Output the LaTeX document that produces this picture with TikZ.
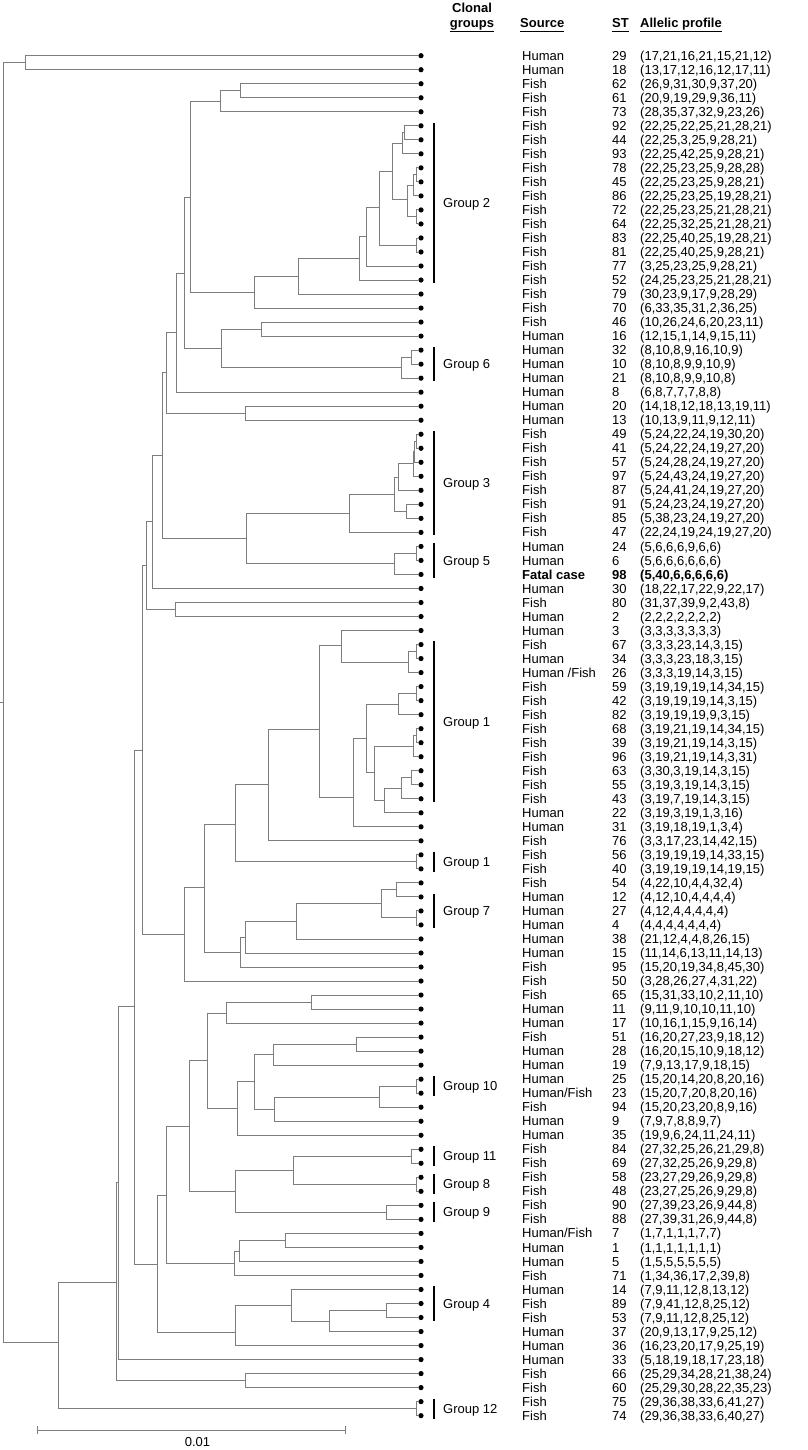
\documentclass[tikz,border=0pt]{standalone}
\usepackage{fontspec}
\setmainfont{Liberation Sans}
\usetikzlibrary{positioning}

\definecolor{treegray}{RGB}{125,125,125}

% one isolate per row: row, source, ST, allelic profile
\newcommand{\isolate}[4]{%
  \node[leaf] (l#1) at (421,#1) {};
  \node[txt] (src#1) at (522,#1) {#2};
  \node[txt] (st#1) at (612,#1) {#3};
  \node[txt] (ap#1) at (640,#1) {#4};}
% internal node: name, position, two children
\newcommand{\clade}[4]{%
  \coordinate (#1) at (#2);
  \draw[branch] (#1) |- (#3) (#1) |- (#4);}
% clonal group bar: first row, last row, label
\newcommand{\clonal}[3]{%
  \draw[bar] (434,{#1-0.22}) -- (434,{#2+0.22});
  \node[txt] (grp#1) at (443,{(#1+#2)/2}) {#3};}

\begin{document}
\begin{tikzpicture}[x=1pt, y=-1pt,
    leaf/.style={circle, fill=black, inner sep=0pt, minimum size=5.2pt},
    branch/.style={draw=treegray, line width=0.9pt},
    txt/.style={anchor=base west, inner sep=0pt, yshift=-4.6pt, font=\fontsize{13}{15}\selectfont},
    hdr/.style={inner sep=0pt, font=\fontsize{13}{15}\selectfont\bfseries},
    bar/.style={line width=1.4pt},
    scalebar/.style={draw=treegray, line width=0.9pt}
  ]
  \useasboundingbox (0,0) rectangle (807,1450);

  % column headers
  \node[hdr, anchor=base] (hClonal) at (472,12.5) {Clonal};
  \node[hdr, anchor=base] (hGroups) at (472,27.5) {groups};
  \node[hdr, anchor=base west] (hSource) at (520,27.5) {Source};
  \node[hdr, anchor=base west] (hST) at (612,27.5) {ST};
  \node[hdr, anchor=base west] (hProfile) at (640,27.5) {Allelic profile};
  \foreach \h in {hGroups,hSource,hST,hProfile}
    \draw[line width=0.9pt] ([yshift=-4pt]\h.base west) -- ([yshift=-4pt]\h.base east);

  \begin{scope}[shift={(0,41.68)}, y=-14.02pt]
  % isolates
  \isolate{1}{Human}{29}{(17,21,16,21,15,21,12)}
  \isolate{2}{Human}{18}{(13,17,12,16,12,17,11)}
  \isolate{3}{Fish}{62}{(26,9,31,30,9,37,20)}
  \isolate{4}{Fish}{61}{(20,9,19,29,9,36,11)}
  \isolate{5}{Fish}{73}{(28,35,37,32,9,23,26)}
  \isolate{6}{Fish}{92}{(22,25,22,25,21,28,21)}
  \isolate{7}{Fish}{44}{(22,25,3,25,9,28,21)}
  \isolate{8}{Fish}{93}{(22,25,42,25,9,28,21)}
  \isolate{9}{Fish}{78}{(22,25,23,25,9,28,28)}
  \isolate{10}{Fish}{45}{(22,25,23,25,9,28,21)}
  \isolate{11}{Fish}{86}{(22,25,23,25,19,28,21)}
  \isolate{12}{Fish}{72}{(22,25,23,25,21,28,21)}
  \isolate{13}{Fish}{64}{(22,25,32,25,21,28,21)}
  \isolate{14}{Fish}{83}{(22,25,40,25,19,28,21)}
  \isolate{15}{Fish}{81}{(22,25,40,25,9,28,21)}
  \isolate{16}{Fish}{77}{(3,25,23,25,9,28,21)}
  \isolate{17}{Fish}{52}{(24,25,23,25,21,28,21)}
  \isolate{18}{Fish}{79}{(30,23,9,17,9,28,29)}
  \isolate{19}{Fish}{70}{(6,33,35,31,2,36,25)}
  \isolate{20}{Fish}{46}{(10,26,24,6,20,23,11)}
  \isolate{21}{Human}{16}{(12,15,1,14,9,15,11)}
  \isolate{22}{Human}{32}{(8,10,8,9,16,10,9)}
  \isolate{23}{Human}{10}{(8,10,8,9,9,10,9)}
  \isolate{24}{Human}{21}{(8,10,8,9,9,10,8)}
  \isolate{25}{Human}{8}{(6,8,7,7,7,8,8)}
  \isolate{26}{Human}{20}{(14,18,12,18,13,19,11)}
  \isolate{27}{Human}{13}{(10,13,9,11,9,12,11)}
  \isolate{28}{Fish}{49}{(5,24,22,24,19,30,20)}
  \isolate{29}{Fish}{41}{(5,24,22,24,19,27,20)}
  \isolate{30}{Fish}{57}{(5,24,28,24,19,27,20)}
  \isolate{31}{Fish}{97}{(5,24,43,24,19,27,20)}
  \isolate{32}{Fish}{87}{(5,24,41,24,19,27,20)}
  \isolate{33}{Fish}{91}{(5,24,23,24,19,27,20)}
  \isolate{34}{Fish}{85}{(5,38,23,24,19,27,20)}
  \isolate{35}{Fish}{47}{(22,24,19,24,19,27,20)}
  \isolate{36}{Human}{24}{(5,6,6,6,9,6,6)}
  \isolate{37}{Human}{6}{(5,6,6,6,6,6,6)}
  \isolate{38}{\textbf{Fatal case}}{\textbf{98}}{\textbf{(5,40,6,6,6,6,6)}}
  \isolate{39}{Human}{30}{(18,22,17,22,9,22,17)}
  \isolate{40}{Fish}{80}{(31,37,39,9,2,43,8)}
  \isolate{41}{Human}{2}{(2,2,2,2,2,2,2)}
  \isolate{42}{Human}{3}{(3,3,3,3,3,3,3)}
  \isolate{43}{Fish}{67}{(3,3,3,23,14,3,15)}
  \isolate{44}{Human}{34}{(3,3,3,23,18,3,15)}
  \isolate{45}{Human /Fish}{26}{(3,3,3,19,14,3,15)}
  \isolate{46}{Fish}{59}{(3,19,19,19,14,34,15)}
  \isolate{47}{Fish}{42}{(3,19,19,19,14,3,15)}
  \isolate{48}{Fish}{82}{(3,19,19,19,9,3,15)}
  \isolate{49}{Fish}{68}{(3,19,21,19,14,34,15)}
  \isolate{50}{Fish}{39}{(3,19,21,19,14,3,15)}
  \isolate{51}{Fish}{96}{(3,19,21,19,14,3,31)}
  \isolate{52}{Fish}{63}{(3,30,3,19,14,3,15)}
  \isolate{53}{Fish}{55}{(3,19,3,19,14,3,15)}
  \isolate{54}{Fish}{43}{(3,19,7,19,14,3,15)}
  \isolate{55}{Human}{22}{(3,19,3,19,1,3,16)}
  \isolate{56}{Human}{31}{(3,19,18,19,1,3,4)}
  \isolate{57}{Fish}{76}{(3,3,17,23,14,42,15)}
  \isolate{58}{Fish}{56}{(3,19,19,19,14,33,15)}
  \isolate{59}{Fish}{40}{(3,19,19,19,14,19,15)}
  \isolate{60}{Fish}{54}{(4,22,10,4,4,32,4)}
  \isolate{61}{Human}{12}{(4,12,10,4,4,4,4)}
  \isolate{62}{Human}{27}{(4,12,4,4,4,4,4)}
  \isolate{63}{Human}{4}{(4,4,4,4,4,4,4)}
  \isolate{64}{Human}{38}{(21,12,4,4,8,26,15)}
  \isolate{65}{Human}{15}{(11,14,6,13,11,14,13)}
  \isolate{66}{Fish}{95}{(15,20,19,34,8,45,30)}
  \isolate{67}{Fish}{50}{(3,28,26,27,4,31,22)}
  \isolate{68}{Fish}{65}{(15,31,33,10,2,11,10)}
  \isolate{69}{Human}{11}{(9,11,9,10,10,11,10)}
  \isolate{70}{Human}{17}{(10,16,1,15,9,16,14)}
  \isolate{71}{Fish}{51}{(16,20,27,23,9,18,12)}
  \isolate{72}{Human}{28}{(16,20,15,10,9,18,12)}
  \isolate{73}{Human}{19}{(7,9,13,17,9,18,15)}
  \isolate{74}{Human}{25}{(15,20,14,20,8,20,16)}
  \isolate{75}{Human/Fish}{23}{(15,20,7,20,8,20,16)}
  \isolate{76}{Fish}{94}{(15,20,23,20,8,9,16)}
  \isolate{77}{Human}{9}{(7,9,7,8,8,9,7)}
  \isolate{78}{Human}{35}{(19,9,6,24,11,24,11)}
  \isolate{79}{Fish}{84}{(27,32,25,26,21,29,8)}
  \isolate{80}{Fish}{69}{(27,32,25,26,9,29,8)}
  \isolate{81}{Fish}{58}{(23,27,29,26,9,29,8)}
  \isolate{82}{Fish}{48}{(23,27,25,26,9,29,8)}
  \isolate{83}{Fish}{90}{(27,39,23,26,9,44,8)}
  \isolate{84}{Fish}{88}{(27,39,31,26,9,44,8)}
  \isolate{85}{Human/Fish}{7}{(1,7,1,1,1,7,7)}
  \isolate{86}{Human}{1}{(1,1,1,1,1,1,1)}
  \isolate{87}{Human}{5}{(1,5,5,5,5,5,5)}
  \isolate{88}{Fish}{71}{(1,34,36,17,2,39,8)}
  \isolate{89}{Human}{14}{(7,9,11,12,8,13,12)}
  \isolate{90}{Fish}{89}{(7,9,41,12,8,25,12)}
  \isolate{91}{Fish}{53}{(7,9,11,12,8,25,12)}
  \isolate{92}{Human}{37}{(20,9,13,17,9,25,12)}
  \isolate{93}{Human}{36}{(16,23,20,17,9,25,19)}
  \isolate{94}{Human}{33}{(5,18,19,18,17,23,18)}
  \isolate{95}{Fish}{66}{(25,29,34,28,21,38,24)}
  \isolate{96}{Fish}{60}{(25,29,30,28,22,35,23)}
  \isolate{97}{Fish}{75}{(29,36,38,33,6,41,27)}
  \isolate{98}{Fish}{74}{(29,36,38,33,6,40,27)}

  % clonal groups
  \clonal{6}{17}{Group 2}
  \clonal{22}{24}{Group 6}
  \clonal{28}{35}{Group 3}
  \clonal{36}{38}{Group 5}
  \clonal{43}{54}{Group 1}
  \clonal{58}{59}{Group 1}
  \clonal{61}{63}{Group 7}
  \clonal{74}{75}{Group 10}
  \clonal{79}{80}{Group 11}
  \clonal{81}{82}{Group 8}
  \clonal{83}{84}{Group 9}
  \clonal{89}{91}{Group 4}
  \clonal{97}{98}{Group 12}

  % tree, upper part
  \clade{n34}{240.7,3.5}{l3}{l4}
  \clade{nFI}{220,4.25}{n34}{l5}
  \clade{n67}{404.5,6.5}{l6}{l7}
  \clade{n678}{402.3,7.25}{n67}{l8}
  \clade{n910}{416.7,9.5}{l9}{l10}
  \clade{n911}{413.3,10.25}{n910}{l11}
  \clade{n1213}{416.7,12.5}{l12}{l13}
  \clade{nFP}{407.3,11.25}{n911}{n1213}
  \clade{nFO}{392.3,9.25}{n678}{nFP}
  \clade{n1415}{416.7,14.5}{l14}{l15}
  \clade{nFN}{379.3,11.85}{nFO}{n1415}
  \clade{nFM}{366.7,13.92}{nFN}{l16}
  \clade{nFL}{359,15.47}{nFM}{l17}
  \clade{nFK}{298.3,16.73}{nFL}{l18}
  \clade{nFJ}{254.3,17.87}{nFK}{l19}
  \clade{nFH}{190,11.1}{nFI}{nFJ}
  \clade{n2021}{261,20.5}{l20}{l21}
  \clade{n2223}{411.7,22.5}{l22}{l23}
  \clade{g6n}{401.7,23.25}{n2223}{l24}
  \clade{nFQ}{221,21.87}{n2021}{g6n}
  \clade{nFG}{184.3,16.5}{nFH}{nFQ}
  \clade{nFF}{176,20.74}{nFG}{l25}
  \clade{n2627}{245.7,26.5}{l26}{l27}
  \clade{nFE}{166,23.6}{nFF}{n2627}
  \clade{n2829}{416.7,28.5}{l28}{l29}
  \clade{nFU3}{414.7,29.25}{n2829}{l30}
  \clade{nFU2}{413.3,30.1}{nFU3}{l31}
  \clade{nFU}{398.3,31.05}{nFU2}{l32}
  \clade{n3334}{406.7,33.5}{l33}{l34}
  \clade{nFT}{394.3,32.27}{nFU}{n3334}
  \clade{nFS}{349.3,33.64}{nFT}{l35}
  \clade{n3637}{416.7,36.5}{l36}{l37}
  \clade{g5n}{394.3,37.25}{n3637}{l38}
  \clade{nFR}{246.7,35.45}{nFS}{g5n}
  \clade{nFD}{162.7,29.5}{nFE}{nFR}
  \clade{nFC}{152.7,34.25}{nFD}{l39}
  \clade{nFA}{175.7,40.5}{l40}{l41}
  \clade{nFB}{146.7,37.37}{nFC}{nFA}

  % tree, middle part
  \clade{n4344}{416.7,43.5}{l43}{l44}
  \clade{nGDb}{408.3,44.25}{n4344}{l45}
  \clade{nGDa}{341,43.1}{l42}{nGDb}
  \clade{n4647}{416.7,46.5}{l46}{l47}
  \clade{nGFa}{398.3,47.25}{n4647}{l48}
  \clade{n4950}{416.7,49.5}{l49}{l50}
  \clade{nGGa}{413.3,50.25}{n4950}{l51}
  \clade{n5253}{411.7,52.5}{l52}{l53}
  \clade{nGHa}{401.7,53.25}{n5253}{l54}
  \clade{nGH}{384,54.1}{nGHa}{l55}
  \clade{nGG}{374,52.1}{nGGa}{nGH}
  \clade{nGF}{366,49.67}{nGFa}{nGG}
  \clade{nGE}{353.3,53.92}{nGF}{l56}
  \clade{nGD}{319.3,49.05}{nGDa}{nGE}
  \clade{nGC}{268.3,52.95}{nGD}{l57}
  \clade{g1n}{416.7,58.5}{l58}{l59}
  \clade{nGB}{235.7,55.8}{nGC}{g1n}
  \clade{n6061}{396,60.5}{l60}{l61}
  \clade{n6263}{416.7,62.5}{l62}{l63}
  \clade{nGA}{381.7,61.5}{n6061}{n6263}
  \clade{nFZ}{296,62.75}{nGA}{l64}
  \clade{nFY}{245.7,63.88}{nFZ}{l65}
  \clade{nFX}{240.7,64.94}{nFY}{l66}
  \clade{nFW}{204,60.35}{nGB}{nFX}
  \clade{nFV}{184,63.7}{nFW}{l67}
  \clade{nF}{142.3,50.52}{nFB}{nFV}

  % tree, lower part
  \clade{nL}{311.7,68.5}{l68}{l69}
  \clade{nK}{226.7,69.3}{nL}{l70}
  \clade{nP}{356.7,71.5}{l71}{l72}
  \clade{nO}{273.3,72.25}{nP}{l73}
  \clade{g10n}{416.7,74.5}{l74}{l75}
  \clade{nR}{379,75.27}{g10n}{l76}
  \clade{nQ}{274,76.15}{nR}{l77}
  \clade{nN}{254,74.17}{nO}{nQ}
  \clade{nM}{237.3,76.08}{nN}{l78}
  \clade{nJ}{207.7,72.7}{nK}{nM}
  \clade{g11n}{411.7,79.5}{l79}{l80}
  \clade{g8n}{416.7,81.5}{l81}{l82}
  \clade{nU}{293.3,80.5}{g11n}{g8n}
  \clade{g9n}{386.7,83.5}{l83}{l84}
  \clade{nT}{235.7,82.0}{nU}{g9n}
  \clade{nI}{189.3,77.39}{nJ}{nT}
  \clade{nZ}{285,85.5}{l85}{l86}
  \clade{nAA}{239,86.27}{nZ}{l87}
  \clade{nY}{234,87.14}{nAA}{l88}
  \clade{nH}{166.7,82.26}{nI}{nY}
  \clade{g4n}{386.7,90.5}{l90}{l91}
  \clade{nAD}{329,91.3}{g4n}{l92}
  \clade{nAC}{291.7,90.17}{l89}{nAD}
  \clade{nAB}{235.7,92.06}{nAC}{l93}
  \clade{nG}{157.7,87.18}{nH}{nAB}
  \clade{nE}{134,68.83}{nF}{nG}
  \clade{nD}{118.3,81.4}{nE}{l94}
  \clade{n9596}{245.7,95.5}{l95}{l96}
  \clade{nC}{116,88.49}{nD}{n9596}
  \clade{g12n}{416.7,97.5}{l97}{l98}
  \clade{nB}{58.3,92.8}{nC}{g12n}
  \clade{a12}{25,1.5}{l1}{l2}
  \clade{root}{3.3,47.15}{a12}{nB}
  \coordinate (rootstem) at (0,47.15);
  \draw[branch] (rootstem) -- (root);
  \end{scope}

  % scale bar
  \coordinate (sbL) at (37.7,1430);
  \coordinate (sbR) at (345.7,1430);
  \draw[scalebar] (sbL) -- (sbR);
  \draw[scalebar] ([yshift=4pt]sbL) -- ([yshift=-4pt]sbL);
  \draw[scalebar] ([yshift=4pt]sbR) -- ([yshift=-4pt]sbR);
  \node[anchor=base, inner sep=0pt, font=\fontsize{13}{15}\selectfont] (sblabel) at (197.5,1446) {0.01};
\end{tikzpicture}
\end{document}
